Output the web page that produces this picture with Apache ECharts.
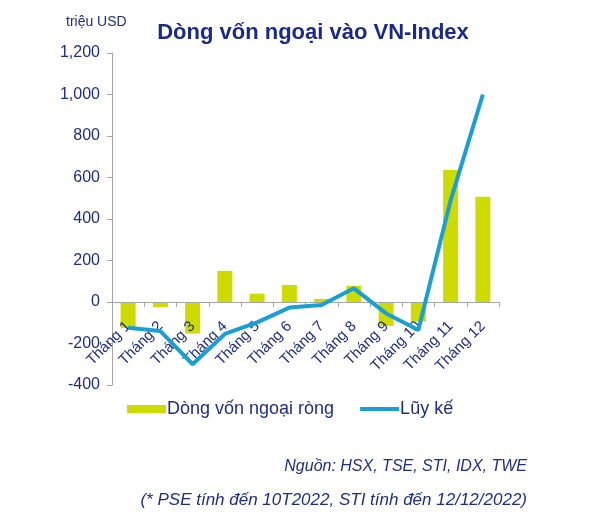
<!DOCTYPE html>
<html><head><meta charset="utf-8">
<script src="https://cdn.jsdelivr.net/npm/echarts@6/dist/echarts.min.js"></script>
<style>html,body{margin:0;padding:0;background:#fff}#c{width:600px;height:527px}</style>
</head><body><div id="c"></div>
<script>
const categories = ['Tháng 1','Tháng 2','Tháng 3','Tháng 4','Tháng 5','Tháng 6','Tháng 7','Tháng 8','Tháng 9','Tháng 10','Tháng 11','Tháng 12'];
const netFlow = [-125, -25, -152, 150, 40, 82, 15, 78, -115, -95, 636, 507];
const cumulative = [-124, -140, -300, -154, -98, -27, -14, 66, -55, -135, 490, 1000];
const yTicks = {min: -400, max: 1200, interval: 200};
const navy = '#1f2d86';
const ff = 'Liberation Sans, Arial, sans-serif';
const chart = echarts.init(document.getElementById('c'));
chart.setOption({
  animation: false,
  textStyle: {fontFamily: ff},
  title: {text: 'Dòng vốn ngoại vào VN-Index', left: 308, textAlign: 'center', top: 17,
    textStyle: {color: '#1a2a8c', fontSize: 22, fontWeight: 'bold', fontFamily: ff}},
  grid: {left: 112, right: 101, top: 53, bottom: 142},
  legend: {top: 400, left: 127, padding: 0, itemGap: 26, itemWidth: 39, itemHeight: 8,
    textStyle: {color: navy, fontSize: 18, padding: [0,0,0,-4]},
    data: [{name: 'Dòng vốn ngoại ròng', icon: 'rect'}, {name: 'Lũy kế', icon: 'path://M0,0 L40,0 L40,4 L0,4 Z'}]},
  xAxis: {type: 'category', data: categories, offset: -83, z: 3,
    axisLine: {onZero: false, lineStyle: {color: '#a6a6a6', width: 1}},
    axisTick: {show: true, length: 5, lineStyle: {color: '#a6a6a6'}},
    axisLabel: {rotate: 45, color: navy, fontSize: 15, margin: 22, interval: 0}},
  yAxis: {type: 'value', min: yTicks.min, max: yTicks.max, interval: yTicks.interval,
    splitLine: {show: false},
    axisLine: {show: true, lineStyle: {color: '#a6a6a6'}},
    axisTick: {show: true, length: 5, lineStyle: {color: '#a6a6a6'}},
    axisLabel: {color: navy, fontSize: 16, margin: 12,
      formatter: v => v.toLocaleString('en-US')}},
  series: [
    {name: 'Dòng vốn ngoại ròng', type: 'bar', data: netFlow, barWidth: 15, z: 2,
     itemStyle: {color: '#cddb00'}},
    {name: 'Lũy kế', type: 'line', data: cumulative, symbol: 'none', z: 5,
     lineStyle: {color: '#1a9fd4', width: 4}, itemStyle: {color: '#1a9fd4'}}
  ],
  graphic: [
    {type: 'text', left: 66, top: 15, style: {text: 'triệu USD', fill: navy, fontSize: 14, fontFamily: ff}},
    {type: 'text', right: 73, top: 459, style: {text: 'Nguồn: HSX, TSE, STI, IDX, TWE', fill: navy, fontSize: 16, fontStyle: 'italic', fontFamily: ff}},
    {type: 'text', right: 73, top: 492, style: {text: '(* PSE tính đến 10T2022, STI tính đến 12/12/2022)', fill: navy, fontSize: 17, fontStyle: 'italic', fontFamily: ff}}
  ]
});
</script></body></html>
